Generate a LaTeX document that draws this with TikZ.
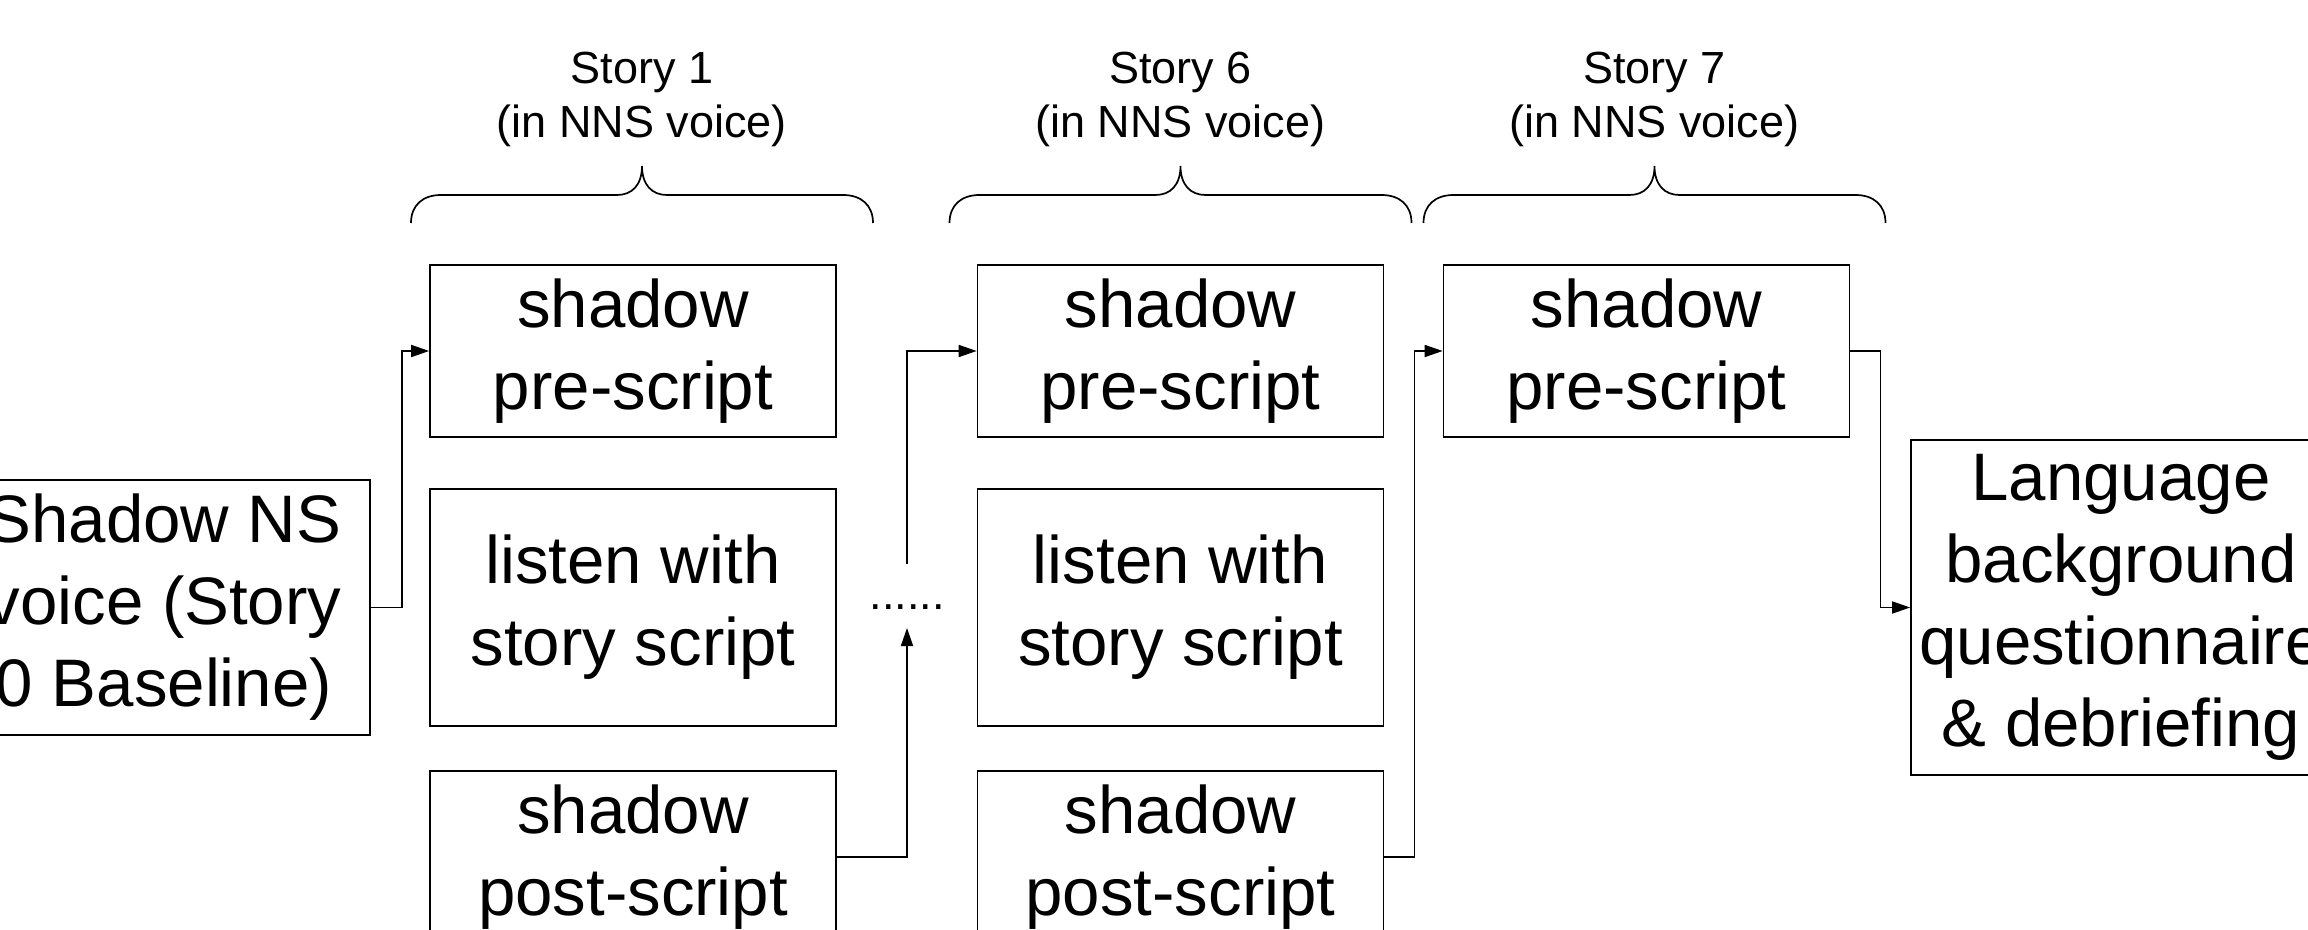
\documentclass[tikz,border=0pt]{standalone}
\usepackage{fontspec}
\setmainfont{Liberation Sans}
\usetikzlibrary{arrows.meta}
\begin{document}
\begin{tikzpicture}[x=0.5pt,y=-0.5pt,
  box/.style={draw,line width=0.85pt,rectangle,inner sep=0pt,align=center,font=\fontsize{33.6pt}{41pt}\selectfont},
  smallbox/.style={box,minimum width=203pt,minimum height=86pt},
  tallbox/.style={box,minimum width=203pt,minimum height=118.5pt},
  lbl/.style={align=center,inner sep=0pt,font=\fontsize{22.5pt}{27pt}\selectfont},
  arr/.style={line width=0.85pt,-{Triangle[length=9pt,width=6pt]}},
  bracestyle/.style={line width=0.85pt}]
\useasboundingbox (0,0) rectangle (2308,930);
\clip (0,0) rectangle (2308,930);
\fill[white] (0,0) rectangle (2308,930);

% boxes
\node[box,minimum width=206pt,minimum height=127.5pt] (base) at (164,607.5) {Shadow NS\\voice (Story\\0 Baseline)};
\node[smallbox] (s1pre) at (633,351) {shadow\\pre-script};
\node[tallbox] (s1lis) at (633,607.5) {listen with\\story script};
\node[smallbox] (s1post) at (633,857) {shadow\\post-script};
\node[smallbox] (s6pre) at (1180.5,351) {shadow\\pre-script};
\node[tallbox] (s6lis) at (1180.5,607.5) {listen with\\story script};
\node[smallbox] (s6post) at (1180.5,857) {shadow\\post-script};
\node[smallbox] (s7pre) at (1646.5,351) {shadow\\pre-script};
\node[box,minimum width=210pt,minimum height=167.5pt] (final) at (2121,607.5) {Language\\background\\questionnaire\\\& debriefing};

% dots
\node[lbl] (dots) at (907,607) {......};
\coordinate (dtop) at (907,564);
\coordinate (dbot) at (907,628);

% labels
\node[lbl] (l1) at (642,99) {Story 1\\(in NNS voice)};
\node[lbl] (l6) at (1180.5,99) {Story 6\\(in NNS voice)};
\node[lbl] (l7) at (1654.5,99) {Story 7\\(in NNS voice)};

% braces
\foreach \c in {642,1180.5,1654.5}{
  \draw[bracestyle] (\c-231,223) .. controls (\c-231,205) and (\c-219,195) .. (\c-201,195)
    -- (\c-25,195) .. controls (\c-10,195) and (\c,185) .. (\c,166)
    .. controls (\c,185) and (\c+10,195) .. (\c+25,195)
    -- (\c+201,195) .. controls (\c+219,195) and (\c+231,205) .. (\c+231,223);
}

% connectors
\draw[arr] (base.east) -- ++(31,0) |- (s1pre.west);
\draw[arr] (s1post.east) -| (dbot);
\draw[arr] (dtop) |- (s6pre.west);
\draw[arr] (s6post.east) -- ++(30,0) |- (s7pre.west);
\draw[arr] (s7pre.east) -- ++(30,0) |- (final.west);
\end{tikzpicture}
\end{document}
